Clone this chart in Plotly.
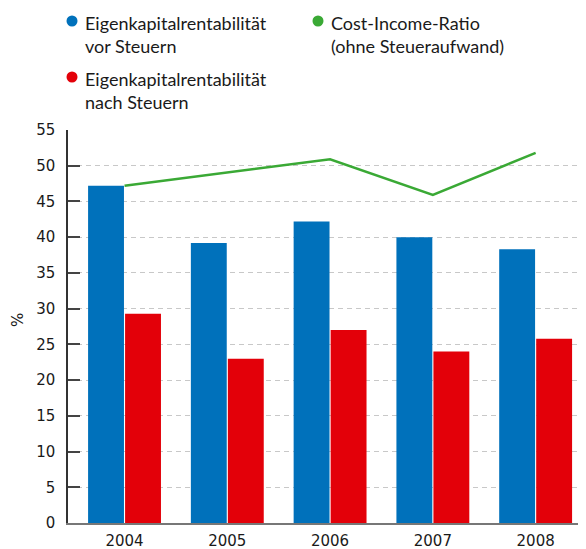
import plotly.graph_objects as go

years = ["2004", "2005", "2006", "2007", "2008"]
eq_before_tax = [47.2, 39.2, 42.2, 40.0, 38.3]
eq_after_tax = [29.3, 23.0, 27.0, 24.0, 25.8]
cost_income = [47.2, 49.0, 50.9, 45.9, 51.8]

legend_names = [
    "Eigenkapitalrentabilität<br>vor Steuern",
    "Eigenkapitalrentabilität<br>nach Steuern",
    "Cost-Income-Ratio<br>(ohne Steueraufwand)",
]
y_ticks = list(range(0, 60, 5))

BLUE = "#0071bb"
RED = "#e30009"
GREEN = "#3aa935"

# page body has an 8px margin; work in reference pixels and shift
OFF = 8
W, H = 586 - OFF, 549 - OFF
L, R, T, B = 68 - OFF, 586 - OFF, 130 - OFF, 523 - OFF


def px(x):
    return (x - OFF - L) / (R - L)


def py(y):
    return (B - (y - OFF)) / (B - T)


fig = go.Figure()
fig.add_trace(go.Bar(x=years, y=eq_before_tax, marker=dict(color=BLUE, line=dict(width=0)),
                     name="Eigenkapitalrentabilität vor Steuern"))
fig.add_trace(go.Bar(x=years, y=eq_after_tax, marker=dict(color=RED, line=dict(width=0)),
                     name="Eigenkapitalrentabilität nach Steuern"))
fig.add_trace(go.Scatter(x=years, y=cost_income, mode="lines",
                         line=dict(color=GREEN, width=2.5),
                         name="Cost-Income-Ratio (ohne Steueraufwand)"))

shapes = []
annotations = []
legend_items = [
    (72, 21, BLUE, legend_names[0]),
    (72, 77, RED, legend_names[1]),
    (318, 21, GREEN, legend_names[2]),
]
rad = 5.5
for cx, cy, col, txt in legend_items:
    shapes.append(dict(type="circle", xref="paper", yref="paper",
                       x0=px(cx - rad), x1=px(cx + rad), y0=py(cy + rad), y1=py(cy - rad),
                       fillcolor=col, line=dict(width=0), layer="above"))
    annotations.append(dict(xref="paper", yref="paper", x=px(cx + 11), y=py(cy - 11),
                            xanchor="left", yanchor="top", align="left", showarrow=False,
                            text=txt, font=dict(family="Lato", size=18, color="#1a1a1a")))

annotations.append(dict(xref="paper", yref="paper", x=px(18), y=py(320), text="%",
                        textangle=-90, showarrow=False, xanchor="center", yanchor="middle",
                        font=dict(family="DejaVu Sans", size=15, color="#1a1a1a")))

fig.update_layout(
    width=W, height=H,
    margin=dict(l=L, r=W - R, t=T, b=H - B, autoexpand=False),
    paper_bgcolor="white", plot_bgcolor="white",
    showlegend=False,
    barmode="group", bargap=0.28, bargroupgap=0.03,
    shapes=shapes, annotations=annotations,
    font=dict(family="DejaVu Sans", size=15, color="#1a1a1a"),
)
fig.update_xaxes(type="category", range=[-0.55, 4.49], showgrid=False, ticks="",
                 showline=True, linecolor="#777777", linewidth=2,
                 ticklabelstandoff=3, tickfont=dict(family="DejaVu Sans", size=15, color="#1a1a1a"),
                 automargin=False)
fig.update_yaxes(range=[0, 55], tickvals=y_ticks, showgrid=True, gridcolor="#c8c8c8",
                 griddash="5px,4px", gridwidth=1, zeroline=False,
                 showline=True, linecolor="#333333", linewidth=1.5,
                 ticks="inside", ticklen=12, tickwidth=1.5, tickcolor="#444444",
                 ticklabelstandoff=8, tickfont=dict(family="DejaVu Sans", size=15, color="#1a1a1a"),
                 automargin=False)

fig.write_html("out.html")
